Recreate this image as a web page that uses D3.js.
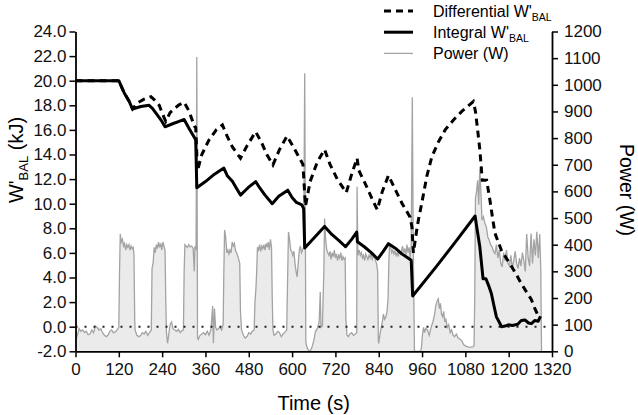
<!DOCTYPE html>
<html>
<head>
<meta charset="utf-8">
<script src="https://cdn.jsdelivr.net/npm/d3@7"></script>
<style>
  body { margin: 0; background: #fff; }
  svg { font-family: "Liberation Sans", Arial, sans-serif; }
</style>
</head>
<body>
<div id="chart"></div>
<script>
// W'bal vs power chart

const width = 638;
const height = 415;

// x axis ticks (s)
const timeTicks = [0, 120, 240, 360, 480, 600, 720, 840, 960, 1080, 1200, 1320];
const wbalTicks = [-2, 0, 2, 4, 6, 8, 10, 12, 14, 16, 18, 20, 22, 24];
const powerTicks = [0, 100, 200, 300, 400, 500, 600, 700, 800, 900, 1000, 1100, 1200];

// Integral W'bal (kJ)
const integralT = [0, 120, 135, 149, 158, 181, 204, 213, 227, 237, 248, 269, 287, 301, 315, 333, 336,
  360, 385, 411, 420, 435, 445, 457, 478, 499, 510, 525, 545, 563, 588, 600, 612, 627, 632, 635,
  660, 690, 710, 730, 748, 765, 779, 781, 800, 820, 837, 852, 867, 885, 905, 920, 930, 934,
  1000, 1050, 1107, 1111, 1120, 1129, 1137, 1145, 1152, 1160, 1166, 1175, 1180, 1190, 1199,
  1210, 1225, 1235, 1245, 1255, 1263, 1272, 1282, 1288];
const integralW = [20.0, 20.0, 19.0, 18.3, 17.7, 17.9, 18.0, 17.75, 17.2, 16.8, 16.25, 16.5, 16.7, 16.85, 16.1, 15.2, 11.3,
  11.8, 12.4, 12.9, 12.3, 11.8, 11.3, 10.7, 11.3, 11.8, 11.3, 10.7, 10.0, 10.6, 11.1, 10.5, 10.1, 9.9, 9.6, 6.4,
  7.2, 8.15, 7.5, 7.0, 6.5, 7.1, 7.7, 6.9, 6.5, 6.0, 5.5, 6.1, 6.75, 6.4, 5.9, 5.6, 5.4, 2.5,
  4.9, 6.8, 9.0, 8.2, 6.5, 3.9, 3.9, 3.3, 2.7, 1.6, 0.8, 0.3, 0.0, 0.05, 0.15,
  0.1, 0.2, 0.5, 0.55, 0.3, 0.25, 0.5, 0.45, 0.85];

// Differential W'bal (kJ)
const diffT = [0, 120, 135, 149, 158, 172, 190, 209, 220, 232, 241, 250, 262, 273, 285, 301, 315, 329, 333, 338,
  350, 370, 390, 407, 420, 435, 457, 475, 499, 515, 530, 547, 565, 586, 600, 615, 630, 637,
  650, 670, 690, 705, 725, 750, 765, 780, 785, 800, 820, 836, 850, 867, 885, 905, 927, 932, 936,
  945, 950, 959, 973, 987, 1005, 1024, 1047, 1070, 1088, 1102, 1108, 1114, 1120, 1127, 1139,
  1148, 1155, 1162, 1180, 1195, 1208, 1222, 1235, 1250, 1263, 1272, 1280, 1288];
const diffW = [20, 20, 19.0, 18.3, 17.7, 18.2, 18.5, 18.7, 18.4, 18.0, 17.3, 16.7, 17.4, 17.7, 18.0, 18.25, 17.5, 16.3, 16.2, 12.7,
  14.0, 15.2, 16.0, 16.4, 15.5, 14.6, 13.7, 14.7, 15.85, 15.0, 14.0, 13.15, 14.4, 15.5, 14.8, 14.0, 13.2, 9.8,
  11.8, 13.4, 14.4, 13.2, 12.0, 10.9, 12.4, 13.7, 12.7, 11.8, 10.5, 9.5, 11.0, 12.3, 11.2, 10.0, 8.9, 8.1, 6.0,
  7.8, 8.7, 10.0, 12.2, 13.8, 15.0, 16.0, 16.8, 17.5, 17.95, 18.3, 17.5, 16.0, 14.4, 11.9, 11.9,
  10.3, 8.9, 7.6, 6.2, 5.5, 4.9, 4.2, 3.5, 2.8, 2.2, 1.5, 1.0, 0.8];

// Power (W)
const powerT = [0, 5, 10, 15, 20, 25, 30, 35, 40, 45, 50, 55, 60, 65, 70, 75, 80, 85, 90, 95, 100, 105, 110, 115, 120,
  122, 124, 127, 130, 133, 136, 139, 142, 145, 148, 151, 154, 157, 160, 162, 164,
  165, 170, 175, 180, 185, 190, 195, 200, 205, 210,
  212, 215, 218, 221, 224, 227, 230, 233, 236, 239, 242, 245, 248, 250,
  252, 255, 258, 262, 266, 270, 275, 280, 285, 290, 295, 299,
  301, 303, 306, 310, 314, 318, 322, 326, 329, 331, 334, 336, 338,
  340, 345, 350, 355, 360, 365, 370, 375, 380, 382, 385, 388, 392, 396, 400, 405, 409,
  411, 413, 416, 419, 422, 425, 428, 431, 434, 437, 440, 443, 446, 449, 452, 455, 457,
  460, 465, 470, 475, 480, 485, 490, 495,
  497, 500, 502, 504, 507, 510, 513, 516, 519, 522, 525, 528, 531, 534, 537, 540, 543, 545,
  547, 550, 555, 560, 565, 570, 575, 580, 585,
  588, 590, 593, 596, 599, 602, 605, 608, 611, 614, 617, 620, 623, 626, 629, 632, 635, 638,
  640, 645, 650, 655, 660, 665, 670, 675, 678, 680, 684,
  688, 690, 693, 696, 699, 702, 705, 708, 711, 714, 717, 720, 723, 726, 729, 732, 735, 738, 741, 744, 747, 749,
  752, 756, 760, 765, 770, 775, 779, 780, 782,
  783, 786, 789, 792, 795, 798, 801, 804, 807, 810, 813, 816, 819, 822, 825, 828, 831, 834, 837, 839,
  840, 843, 847, 850, 853, 856, 860, 863, 866,
  868, 870, 873, 876, 879, 882, 885, 888, 891, 894, 897, 900, 903, 906, 909, 912, 915, 918, 921, 924, 927, 930, 933, 936, 939,
  940, 945, 950, 955, 958, 961, 964, 967, 970, 975, 980, 985, 990, 995, 998, 1002, 1005, 1008, 1011, 1014, 1017, 1020,
  1023, 1026, 1030, 1034, 1038, 1042, 1046, 1050, 1055, 1060, 1065, 1070, 1075, 1080, 1085, 1090, 1095, 1100, 1104,
  1106, 1108, 1111, 1114, 1117, 1120, 1123, 1126, 1130, 1134, 1138, 1142, 1146, 1150, 1154, 1158, 1162, 1166, 1170,
  1174, 1178, 1182, 1186, 1190, 1194, 1198, 1202, 1206, 1210, 1214, 1218, 1222, 1226, 1230, 1234, 1238, 1242, 1246,
  1250, 1254, 1258, 1262, 1266, 1270, 1274, 1278, 1282, 1286, 1289, 1291];
const powerW = [40, 60, 85, 75, 80, 70, 75, 62, 65, 80, 70, 95, 90, 80, 85, 70, 60, 55, 60, 75, 80, 70, 72, 80, 90,
  300, 440, 410, 420, 395, 405, 380, 400, 390, 400, 380, 395, 385, 390, 360, 120,
  80, 60, 55, 58, 70, 65, 75, 60, 70, 80,
  310, 330, 390, 370, 400, 385, 410, 390, 405, 380, 410, 395, 380, 200,
  70, 30, 60, 100, 110, 85, 80, 75, 82, 70, 78, 80,
  300, 400, 395, 390, 400, 392, 395, 385, 300, 395, 380, 1104, 50,
  45, 60, 65, 70, 62, 75, 60, 80, 170, 30, 160, 90, 80, 85, 90, 80, 100,
  300, 455, 430, 370, 380, 365, 380, 370, 410, 395, 405, 380, 370, 360, 345, 330, 150,
  80, 60, 50, 55, 70, 65, 75, 80,
  180, 240, 300, 390, 380, 400, 375, 395, 385, 400, 380, 405, 390, 410, 380, 420, 390, 200,
  80, 60, 65, 75, 70, 55, 65, 72, 80,
  300, 448, 420, 380, 375, 360, 375, 330, 300, 279, 330, 380, 395, 370, 380, 390, 1043, 40,
  20, 5, 0, 15, 40, 75, 85, 110, 222, 90, 95,
  300, 498, 420, 380, 370, 360, 375, 345, 370, 355, 380, 350, 365, 340, 360, 350, 370, 340, 355, 345, 350, 120,
  60, 55, 65, 70, 60, 65, 70, 617, 370,
  365, 380, 360, 370, 350, 360, 340, 365, 355, 345, 360, 350, 370, 345, 355, 360, 340, 330, 300, 40,
  30, 60, 90, 110, 140, 120, 130, 150, 200,
  330, 404, 390, 370, 380, 365, 375, 360, 370, 355, 380, 365, 375, 395, 370, 385, 360, 400, 370, 390, 350, 400, 953, 330, 0,
  0, 0, 0, 0, 10, 60, 90, 70, 85, 80, 60, 90, 110, 140, 170, 190, 197, 160, 180, 140, 130, 150,
  110, 120, 90, 100, 70, 80, 60, 55, 65, 50, 45, 40, 25, 20, 18, 15, 16, 17, 20,
  200, 575, 600, 642, 550, 685, 600, 492, 505, 480, 468, 430, 417, 400, 392, 375, 367, 400, 350,
  380, 330, 317, 370, 340, 380, 330, 320, 360, 310, 340, 375, 330, 310, 350, 320, 370, 340, 300,
  440, 350, 320, 442, 330, 420, 360, 448, 350, 440, 300, 0];

const svg = d3.select('#chart')
  .append('svg')
  .attr('width', width)
  .attr('height', height);

const x = d3.scaleLinear().domain([0, 1320]).range([75.5, 552]);
const yL = d3.scaleLinear().domain([-2, 24]).range([351.3, 31.5]);
const yR = d3.scaleLinear().domain([0, 1200]).range([351.3, 31.5]);

const power = powerT.map((t, i) => ({ t: t, v: powerW[i] }));
const integral = integralT.map((t, i) => ({ t: t, v: integralW[i] }));
const diff = diffT.map((t, i) => ({ t: t, v: diffW[i] }));

// power area + trace
svg.append('path')
  .datum(power)
  .attr('d', d3.area().x(d => x(d.t)).y0(yR(0)).y1(d => yR(d.v)))
  .attr('fill', '#ebebeb');

svg.append('path')
  .datum(power)
  .attr('d', d3.line().x(d => x(d.t)).y(d => yR(d.v)))
  .attr('fill', 'none')
  .attr('stroke', '#a3a3a3')
  .attr('stroke-width', 1.3);

// zero line (dotted)
svg.append('line')
  .attr('x1', x(0)).attr('x2', x(1320))
  .attr('y1', yL(0)).attr('y2', yL(0))
  .attr('stroke', '#222')
  .attr('stroke-width', 2)
  .attr('stroke-dasharray', '2,7');

const wLine = d3.line().x(d => x(d.t)).y(d => yL(d.v));

svg.append('path')
  .datum(integral)
  .attr('d', wLine)
  .attr('fill', 'none')
  .attr('stroke', '#000')
  .attr('stroke-width', 3)
  .attr('stroke-linejoin', 'round');

svg.append('path')
  .datum(diff)
  .attr('d', wLine)
  .attr('fill', 'none')
  .attr('stroke', '#000')
  .attr('stroke-width', 3)
  .attr('stroke-dasharray', '7,5');

// axes
const xAxis = svg.append('g')
  .attr('transform', `translate(0,${yL(-2)})`)
  .call(d3.axisBottom(x).tickValues(timeTicks).tickFormat(d3.format('d')).tickSize(6).tickSizeOuter(0).tickPadding(6));

const leftAxis = svg.append('g')
  .attr('transform', `translate(${x(0)},0)`)
  .call(d3.axisLeft(yL).tickValues(wbalTicks).tickFormat(d => d.toFixed(1)).tickSize(6).tickSizeOuter(0).tickPadding(3));

const rightAxis = svg.append('g')
  .attr('transform', `translate(${x(1320)},0)`)
  .call(d3.axisRight(yR).tickValues(powerTicks).tickFormat(d3.format('d')).tickSize(6).tickSizeOuter(0).tickPadding(6));

[xAxis, leftAxis, rightAxis].forEach(a => {
  a.selectAll('path.domain').attr('stroke-width', 1.8);
  a.selectAll('.tick line').attr('stroke-width', 1.5);
  a.selectAll('.tick text').attr('font-size', 17).attr('fill', '#111')
    .attr('font-family', '"Liberation Sans", Arial, sans-serif');
});

// titles
svg.append('text')
  .attr('x', x(660)).attr('y', 410)
  .attr('text-anchor', 'middle')
  .attr('font-size', 20)
  .text('Time (s)');

const lt = svg.append('text')
  .attr('transform', 'translate(23,160) rotate(-90)')
  .attr('text-anchor', 'middle')
  .attr('font-size', 20);
lt.append('tspan').text('W\'');
lt.append('tspan').attr('font-size', 13).attr('dy', 5).text('BAL');
lt.append('tspan').attr('dy', -5).text(' (kJ)');

svg.append('text')
  .attr('transform', 'translate(620,190) rotate(90)')
  .attr('text-anchor', 'middle')
  .attr('font-size', 19.5)
  .text('Power (W)');

// legend
const legend = [
  { label: 'Differential W\'', sub: 'BAL', dash: '7,5', color: '#000', w: 3 },
  { label: 'Integral W\'', sub: 'BAL', dash: null, color: '#000', w: 3 },
  { label: 'Power (W)', sub: '', dash: null, color: '#a3a3a3', w: 1.3 }
];

legend.forEach((d, i) => {
  const yy = 11 + i * 21.2;
  svg.append('line')
    .attr('x1', 384).attr('x2', 413)
    .attr('y1', yy).attr('y2', yy)
    .attr('stroke', d.color)
    .attr('stroke-width', d.w)
    .attr('stroke-dasharray', d.dash);
  const t = svg.append('text')
    .attr('x', 433).attr('y', yy + 6)
    .attr('font-size', 16);
  t.append('tspan').text(d.label);
  if (d.sub) t.append('tspan').attr('font-size', 10.5).attr('dy', 4).text(d.sub);
});
</script>
</body>
</html>
